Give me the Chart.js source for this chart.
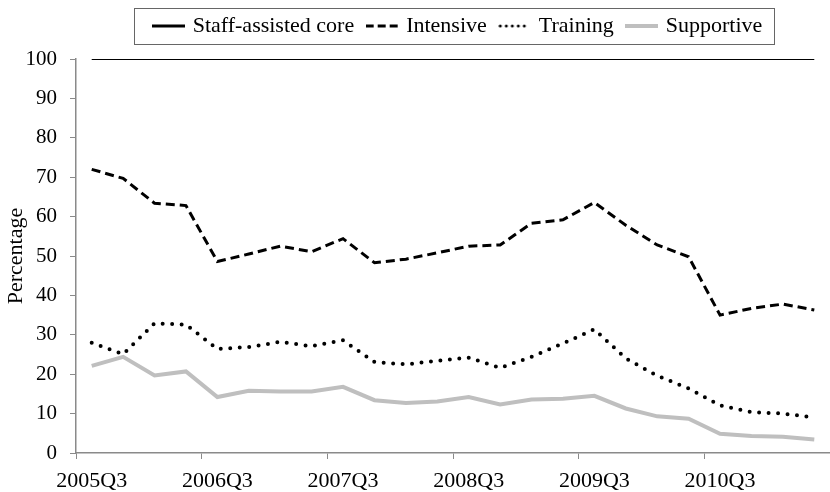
<!DOCTYPE html>
<html>
<head>
<meta charset="utf-8">
<script src="https://cdn.jsdelivr.net/npm/chart.js@4.4.1/dist/chart.umd.min.js"></script>
<style>
    html, body { margin: 0; padding: 0; background: #fff; }
    #wrap { width: 830px; height: 492px; position: relative; }
</style>
</head>
<body>
<div id="wrap"><canvas id="serviceChart"></canvas></div>
<script>
const quarters = [
    '2005Q3', '2005Q4', '2006Q1', '2006Q2', '2006Q3', '2006Q4', '2007Q1', '2007Q2',
    '2007Q3', '2007Q4', '2008Q1', '2008Q2', '2008Q3', '2008Q4', '2009Q1', '2009Q2',
    '2009Q3', '2009Q4', '2010Q1', '2010Q2', '2010Q3', '2010Q4', '2011Q1', '2011Q2'
];
const staffCore = [100, 100, 100, 100, 100, 100, 100, 100, 100, 100, 100, 100,
                   100, 100, 100, 100, 100, 100, 100, 100, 100, 100, 100, 100];
const intensive = [72.0, 69.7, 63.4, 62.8, 48.6, 50.5, 52.5, 51.1, 54.4, 48.3, 49.2, 50.8,
                   52.5, 52.8, 58.3, 59.2, 63.6, 57.8, 52.8, 49.8, 35.0, 36.7, 37.8, 36.3];
const training = [28.0, 25.1, 32.9, 32.6, 26.4, 26.9, 28.2, 27.1, 28.6, 23.1, 22.5, 23.4,
                  24.2, 21.6, 24.4, 27.8, 31.4, 24.0, 19.6, 16.4, 12.1, 10.4, 10.0, 9.0];
const supportive = [22.1, 24.4, 19.7, 20.7, 14.2, 15.8, 15.6, 15.6, 16.8, 13.4, 12.7, 13.1,
                    14.2, 12.3, 13.6, 13.8, 14.5, 11.3, 9.3, 8.7, 4.9, 4.3, 4.1, 3.4];

const serifFont = "'Liberation Serif', 'Times New Roman', serif";
const axisGrey = '#8a8a8a';

// small canvas with a piece of line, used as the legend sample
function lineSample(color, width, dash, cap) {
    const c = document.createElement('canvas');
    c.width = 33;
    c.height = 8;
    const g = c.getContext('2d');
    g.strokeStyle = color;
    g.lineWidth = width;
    g.lineCap = cap || 'butt';
    g.setLineDash(dash || []);
    g.beginPath();
    const off = cap === 'round' ? 2 : 0;
    g.moveTo(off, 4);
    g.lineTo(33 - off, 4);
    g.stroke();
    return c;
}

// legend frame; legend made as tall as the gap above the plot and nudged right a bit
const legendFrame = {
    id: 'legendFrame',
    beforeUpdate(chart) {
        const lg = chart.legend;
        if (lg && !lg._tallFit) {
            const fit = lg.fit;
            lg.fit = function() {
                fit.call(this);
                this.height = 59;
            };
            lg._tallFit = true;
        }
    },
    afterLayout(chart) {
        const lg = chart.legend;
        if (lg) {
            lg.left += 6;
            lg.right += 6;
        }
    },
    afterDraw(chart) {
        const boxes = chart.legend && chart.legend.legendHitBoxes;
        if (!boxes || !boxes.length) return;
        const first = boxes[0];
        const last = boxes[boxes.length - 1];
        const left = Math.round(first.left - 22);
        const right = Math.round(last.left + last.width + 12);
        const ctx = chart.ctx;
        ctx.save();
        ctx.strokeStyle = '#666';
        ctx.lineWidth = 1;
        ctx.strokeRect(left + 0.5, 8.5, right - left, 36);
        ctx.restore();
    }
};

Chart.defaults.font.family = serifFont;
Chart.defaults.color = '#000';

const ctx = document.getElementById('serviceChart').getContext('2d');
new Chart(ctx, {
    type: 'line',
    data: {
        labels: quarters,
        datasets: [
            {
                label: 'Staff-assisted core',
                data: staffCore,
                borderColor: '#000',
                backgroundColor: '#000',
                borderWidth: 2,
                pointStyle: lineSample('#000', 3, [])
            },
            {
                label: 'Intensive',
                data: intensive,
                borderColor: '#000',
                backgroundColor: '#000',
                borderWidth: 3,
                borderDash: [9, 5],
                pointStyle: lineSample('#000', 3, [8, 4])
            },
            {
                label: 'Training',
                data: training,
                borderColor: '#000',
                backgroundColor: '#000',
                borderWidth: 4,
                borderDash: [0, 9.5],
                borderCapStyle: 'round',
                pointStyle: lineSample('#000', 3, [0, 6], 'round')
            },
            {
                label: 'Supportive',
                data: supportive,
                borderColor: '#bfbfbf',
                backgroundColor: '#bfbfbf',
                borderWidth: 4,
                pointStyle: lineSample('#bfbfbf', 4, [])
            }
        ]
    },
    options: {
        responsive: true,
        maintainAspectRatio: false,
        animation: false,
        layout: { padding: { top: 0, left: 0, right: 0, bottom: 0 } },
        elements: {
            point: { radius: 0, hoverRadius: 0 },
            line: { tension: 0 }
        },
        plugins: {
            legend: {
                position: 'top',
                fullSize: false,
                labels: {
                    usePointStyle: true,
                    pointStyleWidth: 26,
                    padding: 15,
                    color: '#000',
                    font: { size: 22, family: serifFont }
                }
            },
            tooltip: { enabled: false }
        },
        scales: {
            x: {
                type: 'category',
                offset: true,
                afterFit: function(scale) { scale.height = 39; },
                grid: {
                    offset: true,
                    drawOnChartArea: false,
                    tickLength: 6,
                    tickColor: function(c) { return c.index % 4 === 0 ? axisGrey : 'rgba(0,0,0,0)'; }
                },
                border: { color: axisGrey, width: 1.5 },
                ticks: {
                    autoSkip: false,
                    maxRotation: 0,
                    padding: 9,
                    color: '#000',
                    font: { size: 22, family: serifFont },
                    callback: function(value, index) {
                        return index % 4 === 0 ? quarters[index] : '';
                    }
                }
            },
            y: {
                min: 0,
                max: 100,
                afterFit: function(scale) { scale.width = 76; },
                grid: {
                    drawOnChartArea: false,
                    tickLength: 6,
                    tickColor: axisGrey
                },
                border: { color: axisGrey, width: 1.5 },
                ticks: {
                    stepSize: 10,
                    padding: 13,
                    color: '#000',
                    font: { size: 21, family: serifFont }
                },
                title: {
                    display: true,
                    text: 'Percentage',
                    color: '#000',
                    padding: { top: 3, bottom: 0 },
                    font: { size: 22, family: serifFont }
                }
            }
        }
    },
    plugins: [legendFrame]
});
</script>
</body>
</html>
